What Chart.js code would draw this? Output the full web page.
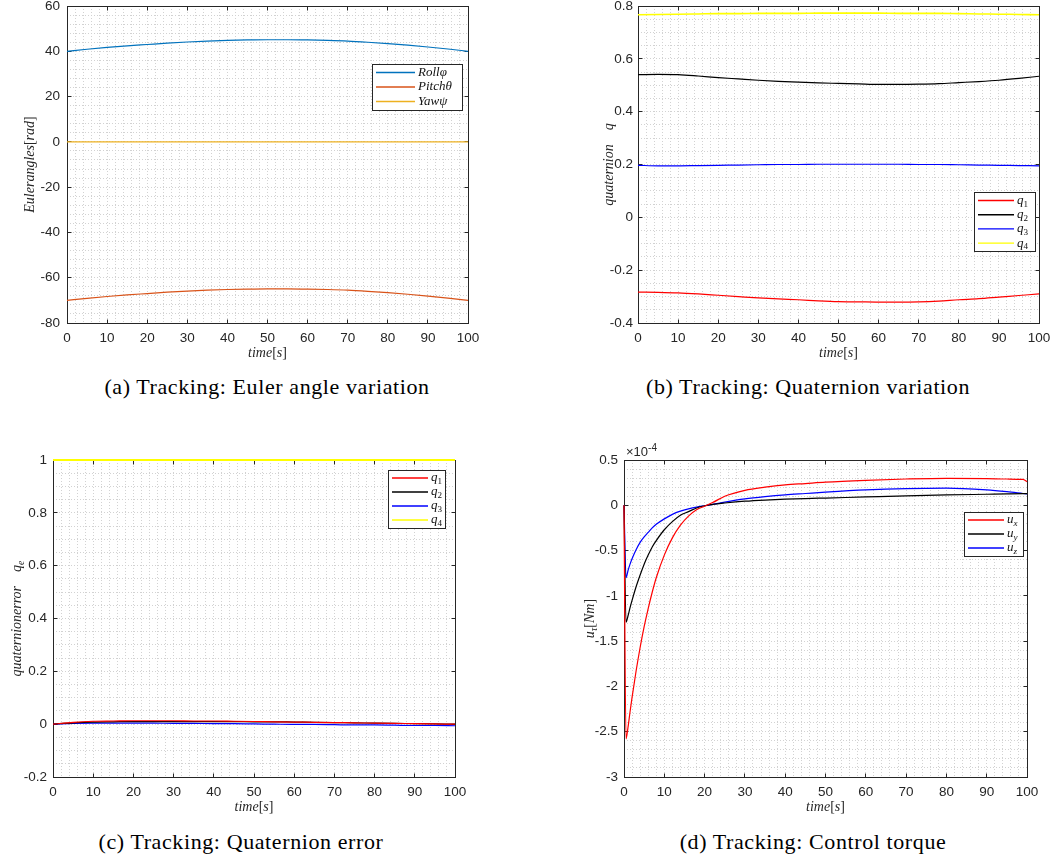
<!DOCTYPE html>
<html><head><meta charset="utf-8">
<script src="https://cdn.jsdelivr.net/npm/chart.js@4.4.1/dist/chart.umd.min.js"></script>
<style>
body{margin:0;background:#fff;width:1051px;height:858px;position:relative;overflow:hidden}
canvas{position:absolute}
.cap{position:absolute;font-family:"Liberation Serif",serif;font-size:22px;letter-spacing:0.6px;color:#000;white-space:nowrap;transform:translate(-50%,-50%)}
</style></head><body>
<canvas id="ca" width="540" height="372" style="left:0px;top:0px"></canvas>
<canvas id="cb" width="491" height="372" style="left:560px;top:0px"></canvas>
<canvas id="cc" width="540" height="390" style="left:0px;top:430px"></canvas>
<canvas id="cd" width="491" height="390" style="left:560px;top:430px"></canvas>
<div class="cap" style="left:267px;top:387px">(a) Tracking: Euler angle variation</div>
<div class="cap" style="left:808px;top:387px">(b) Tracking: Quaternion variation</div>
<div class="cap" style="left:241px;top:842px">(c) Tracking: Quaternion error</div>
<div class="cap" style="left:813px;top:842px">(d) Tracking: Control torque</div>
<script>
// ---------- data ----------
const timeABC = [0,5,10,15,20,25,30,35,40,45,50,55,60,65,70,75,80,85,90,95,100];
// (a) Euler angles
const rollPhi    = [40.0,40.9,41.7,42.4,43.0,43.6,44.1,44.5,44.8,45.0,45.1,45.1,45.0,44.8,44.5,44.0,43.4,42.7,41.9,41.0,40.0];
const pitchTheta = [-70.0,-69.1,-68.3,-67.6,-67.0,-66.4,-65.9,-65.5,-65.2,-65.0,-64.9,-64.9,-65.0,-65.2,-65.5,-66.0,-66.6,-67.3,-68.1,-69.0,-70.0];
const yawPsi     = [0,0,0,0,0,0,0,0,0,0,0,0,0,0,0,0,0,0,0,0,0];
// (b) quaternion variation
const q1Var = [-0.283,-0.284,-0.286,-0.290,-0.295,-0.300,-0.305,-0.309,-0.312,-0.316,-0.319,-0.320,-0.321,-0.321,-0.320,-0.317,-0.312,-0.308,-0.302,-0.296,-0.290];
const q2Var = [0.540,0.541,0.540,0.535,0.529,0.524,0.519,0.515,0.512,0.509,0.507,0.505,0.503,0.503,0.504,0.506,0.510,0.514,0.519,0.526,0.534];
const q3Var = [0.197,0.195,0.195,0.196,0.197,0.198,0.199,0.200,0.200,0.201,0.201,0.201,0.201,0.201,0.200,0.200,0.199,0.198,0.197,0.196,0.195];
const q4Var = [0.767,0.768,0.769,0.770,0.771,0.771,0.772,0.772,0.772,0.773,0.773,0.773,0.773,0.772,0.772,0.772,0.771,0.770,0.769,0.768,0.767];
// (c) quaternion error
const q1Err = [0,0.007,0.011,0.012,0.013,0.013,0.013,0.012,0.012,0.011,0.010,0.009,0.008,0.007,0.006,0.005,0.004,0.003,0.002,0.001,0.000];
const q2Err = [0,0.005,0.008,0.009,0.010,0.010,0.010,0.010,0.010,0.010,0.009,0.009,0.008,0.007,0.006,0.005,0.004,0.003,0.002,0.001,0.000];
const q3Err = [0,0.003,0.004,0.004,0.004,0.004,0.003,0.003,0.002,0.002,0.001,0.000,-0.001,-0.001,-0.002,-0.003,-0.003,-0.004,-0.005,-0.005,-0.006];
const q4Err = [1,1,1,1,1,1,1,1,1,1,1,1,1,1,1,1,1,1,1,1,1];
// (d) control torque (x 1e-4 Nm)
const timeD = [0,0.5,1,1.5,2,3,4,5,6,7,8,10,12,14,16,18,20,22,25,30,35,40,45,50,60,70,80,90,95,99,100];
const uX = [0,-2.58,-2.45,-2.28,-2.12,-1.83,-1.57,-1.34,-1.14,-0.96,-0.80,-0.55,-0.36,-0.22,-0.12,-0.05,-0.01,0.03,0.10,0.165,0.20,0.225,0.24,0.255,0.275,0.29,0.298,0.295,0.29,0.285,0.26];
const uY = [0,-1.29,-1.22,-1.13,-1.05,-0.90,-0.77,-0.65,-0.55,-0.46,-0.39,-0.27,-0.18,-0.11,-0.07,-0.03,-0.005,0.01,0.025,0.045,0.058,0.067,0.074,0.08,0.092,0.104,0.114,0.122,0.126,0.128,0.128];
const uZ = [0,-0.80,-0.72,-0.65,-0.59,-0.49,-0.41,-0.35,-0.30,-0.25,-0.21,-0.15,-0.10,-0.065,-0.04,-0.02,-0.005,0.01,0.035,0.07,0.095,0.115,0.13,0.145,0.17,0.185,0.19,0.17,0.15,0.13,0.125];
// tick definitions
const xMajorStep = 10, xMinorStep = 2;
const yMajorA = 20, yMinorA = 4;
const yMajorB = 0.2, yMinorB = 0.05;
const yMajorC = 0.2, yMinorC = 0.05;
const yMajorD = 0.5, yMinorD = 0.1;
// texts
const xTitle = [{t:'time'},{t:'[',r:1},{t:'s'},{t:']',r:1}];
const yTitleA = [{t:'Eulerangles'},{t:'[',r:1},{t:'rad'},{t:']',r:1}];
const yTitleB = [{t:'quaternion'},{gap:14},{t:'q'}];
const yTitleC = [{t:'quaternionerror'},{gap:14},{t:'q'},{sub:'e'}];
const yTitleD = [{t:'u'},{sub:'τ'},{t:'[',r:1},{t:'Nm'},{t:']',r:1}];
const legendA = [[{t:'Roll'},{t:'φ'}],[{t:'Pitch'},{t:'θ'}],[{t:'Yaw'},{t:'ψ'}]];
const legendQ = [[{t:'q'},{sub:'1',r:1}],[{t:'q'},{sub:'2',r:1}],[{t:'q'},{sub:'3',r:1}],[{t:'q'},{sub:'4',r:1}]];
const legendU = [[{t:'u'},{sub:'x'}],[{t:'u'},{sub:'y'}],[{t:'u'},{sub:'z'}]];

// ---------- helpers ----------
const AX = '#262626';
const SERIF = '"Liberation Serif", serif';
const SANS = '"Liberation Sans", Arial, sans-serif';
const TICK_SIZE = 13.5;
const isMajor = (v, s) => Math.abs(v / s - Math.round(v / s)) < 1e-6;
const fmt = v => String(parseFloat(v.toFixed(3)));
function alignPx(p){ return Math.round(p - 0.5) + 0.5; }

function richWidth(ctx, pieces, size){
  let w = 0;
  for (const p of pieces){
    if (p.gap){ w += p.gap; continue; }
    const small = p.sub || p.sup;
    ctx.font = (p.r ? 'normal ' : 'italic ') + (small ? size*0.7 : size) + 'px ' + SERIF;
    w += ctx.measureText(p.t || p.sub || p.sup).width;
  }
  return w;
}
function drawRich(ctx, pieces, x, y, size, center){
  const w = richWidth(ctx, pieces, size);
  let cx = center ? x - w/2 : x;
  ctx.textBaseline = 'middle'; ctx.textAlign = 'left';
  for (const p of pieces){
    if (p.gap){ cx += p.gap; continue; }
    const small = p.sub || p.sup;
    const txt = p.t || p.sub || p.sup;
    ctx.font = (p.r ? 'normal ' : 'italic ') + (small ? size*0.7 : size) + 'px ' + SERIF;
    const dy = p.sub ? size*0.3 : (p.sup ? -size*0.35 : 0);
    ctx.fillText(txt, cx, y + dy);
    cx += ctx.measureText(txt).width;
  }
}

const decor = {
  id: 'decor',
  beforeDatasetsDraw(chart, args, o){
    const {ctx, chartArea: a, scales: {x, y}} = chart;
    ctx.save();
    const L = alignPx(a.left), R = alignPx(a.right), T = alignPx(a.top), B = alignPx(a.bottom);
    ctx.strokeStyle = AX; ctx.lineWidth = 1;
    ctx.beginPath();
    for (const t of x.ticks){
      if (!isMajor(t.value, o.xMajor)) continue;
      const px = alignPx(x.getPixelForValue(t.value));
      ctx.moveTo(px, B); ctx.lineTo(px, B - 4);
      ctx.moveTo(px, T); ctx.lineTo(px, T + 4);
    }
    for (const t of y.ticks){
      if (!isMajor(t.value, o.yMajor)) continue;
      const py = alignPx(y.getPixelForValue(t.value));
      ctx.moveTo(L, py); ctx.lineTo(L + 4, py);
      ctx.moveTo(R, py); ctx.lineTo(R - 4, py);
    }
    ctx.stroke();
    ctx.strokeRect(L, T, R - L, B - T);
    ctx.restore();
  },
  afterDraw(chart, args, o){
    const {ctx, chartArea: a} = chart;
    ctx.save();
    ctx.fillStyle = AX;
    drawRich(ctx, xTitle, (a.left + a.right)/2, a.bottom + 30, 14, true);
    ctx.save();
    ctx.translate(a.left - o.yTitleOff, (a.top + a.bottom)/2);
    ctx.rotate(-Math.PI/2);
    drawRich(ctx, o.yTitle, 0, 0, 14, true);
    ctx.restore();
    if (o.exponent){
      ctx.font = '13px ' + SANS; ctx.textBaseline = 'alphabetic'; ctx.textAlign = 'left';
      const ex = a.left + 2, ey = a.top - 4;
      ctx.fillText('×10', ex, ey);
      const w = ctx.measureText('×10').width;
      ctx.font = '10px ' + SANS;
      ctx.fillText(o.exponent, ex + w, ey - 5);
    }
    const lg = o.legend;
    ctx.fillStyle = '#fff';
    ctx.fillRect(lg.x, lg.y, lg.w, lg.h);
    ctx.strokeStyle = '#262626'; ctx.lineWidth = 1;
    ctx.strokeRect(alignPx(lg.x), alignPx(lg.y), Math.round(lg.w), Math.round(lg.h));
    chart.data.datasets.forEach((ds, i) => {
      const yy = lg.y + lg.first + i * lg.row;
      ctx.strokeStyle = ds.borderColor; ctx.lineWidth = 1.4;
      ctx.beginPath(); ctx.moveTo(lg.x + 4, yy); ctx.lineTo(lg.x + 4 + lg.line, yy); ctx.stroke();
      ctx.fillStyle = '#111';
      drawRich(ctx, lg.labels[i], lg.x + 7 + lg.line, yy, 13, false);
    });
    ctx.restore();
  }
};

function makePanel(id, conf){
  const cv = document.getElementById(id);
  const W = cv.width, H = cv.height;
  const L = parseFloat(cv.style.left), T = parseFloat(cv.style.top);
  const A = conf.area;
  const gridColor = '#d2d2d2';
  new Chart(cv, {
    type: 'line',
    data: {
      datasets: conf.series.map(s => ({
        label: s.label,
        data: s.t.map((t, i) => ({x: t, y: s.v[i]})),
        borderColor: s.color, borderWidth: s.w || 1.2, pointRadius: 0, fill: false,
        cubicInterpolationMode: 'monotone', clip: false
      }))
    },
    options: {
      responsive: false, animation: false, devicePixelRatio: 1,
      layout: {padding: {left: 0, top: A.top - T, right: L + W - A.right, bottom: 0}},
      plugins: {
        legend: {display: false}, tooltip: {enabled: false},
        decor: {xMajor: xMajorStep, yMajor: conf.yMajor, yTitle: conf.yTitle, yTitleOff: conf.yTitleOff,
                legend: conf.legend, exponent: conf.exponent}
      },
      scales: {
        x: {
          type: 'linear', min: 0, max: 100,
          afterFit: s => { s.height = T + H - A.bottom; s.paddingLeft = 0; s.paddingRight = 0; },
          ticks: {stepSize: xMinorStep, autoSkip: false, maxRotation: 0, padding: 7, color: AX,
                  font: {family: SANS, size: TICK_SIZE},
                  callback: v => isMajor(v, xMajorStep) ? fmt(v) : ''},
          grid: {drawTicks: false, color: gridColor, lineWidth: 1},
          border: {display: false, dash: [1, 2]}
        },
        y: {
          type: 'linear', min: conf.yMin, max: conf.yMax,
          afterFit: s => { s.width = A.left - L; s.paddingTop = 0; s.paddingBottom = 0; },
          ticks: {stepSize: conf.yMinor, autoSkip: false, padding: conf.yPad || 6, color: AX,
                  font: {family: SANS, size: TICK_SIZE},
                  callback: v => isMajor(v, conf.yMajor) ? fmt(v) : ''},
          grid: {drawTicks: false, color: gridColor, lineWidth: 1},
          border: {display: false, dash: [1, 2]}
        }
      }
    },
    plugins: [decor]
  });
}

function lgBox(canvasL, canvasT, x1, y1, x2, y2, first, row, line, labels){
  return {x: x1 - canvasL, y: y1 - canvasT, w: x2 - x1, h: y2 - y1, first, row, line, labels};
}

makePanel('ca', {
  area: {left: 67, top: 6, right: 468, bottom: 323},
  yMin: -80, yMax: 60, yMajor: yMajorA, yMinor: yMinorA, yTitle: yTitleA, yTitleOff: 37, yPad: 7,
  series: [
    {label: 'Roll', t: timeABC, v: rollPhi, color: '#0072BD'},
    {label: 'Pitch', t: timeABC, v: pitchTheta, color: '#D95319'},
    {label: 'Yaw', t: timeABC, v: yawPsi, color: '#EDB120'}
  ],
  legend: lgBox(0, 0, 372, 64, 462, 110, 8.5, 14.5, 39, legendA)
});
makePanel('cb', {
  area: {left: 638, top: 6, right: 1039, bottom: 323},
  yMin: -0.4, yMax: 0.8, yMajor: yMajorB, yMinor: yMinorB, yTitle: yTitleB, yTitleOff: 29, yPad: 5,
  series: [
    {label: 'q1', t: timeABC, v: q1Var, color: '#FF0000'},
    {label: 'q2', t: timeABC, v: q2Var, color: '#000000'},
    {label: 'q3', t: timeABC, v: q3Var, color: '#0000FF'},
    {label: 'q4', t: timeABC, v: q4Var, color: '#FFFF00', w: 1.6}
  ],
  legend: lgBox(560, 0, 974, 192, 1035, 251, 8.5, 14.2, 36, legendQ)
});
makePanel('cc', {
  area: {left: 53, top: 460, right: 455, bottom: 777},
  yMin: -0.2, yMax: 1, yMajor: yMajorC, yMinor: yMinorC, yTitle: yTitleC, yTitleOff: 36, yPad: 6,
  series: [
    {label: 'q1', t: timeABC, v: q1Err, color: '#FF0000'},
    {label: 'q2', t: timeABC, v: q2Err, color: '#000000'},
    {label: 'q3', t: timeABC, v: q3Err, color: '#0000FF'},
    {label: 'q4', t: timeABC, v: q4Err, color: '#FFFF00', w: 2}
  ],
  legend: lgBox(0, 430, 388, 470, 445, 528, 8, 14, 36, legendQ)
});
makePanel('cd', {
  area: {left: 624, top: 460, right: 1027, bottom: 777},
  yMin: -3, yMax: 0.5, yMajor: yMajorD, yMinor: yMinorD, yTitle: yTitleD, yTitleOff: 34, yPad: 6,
  series: [
    {label: 'ux', t: timeD, v: uX, color: '#FF0000'},
    {label: 'uy', t: timeD, v: uY, color: '#000000'},
    {label: 'uz', t: timeD, v: uZ, color: '#0000FF'}
  ],
  legend: lgBox(560, 430, 964, 512, 1023, 556, 8, 14, 36, legendU),
  exponent: '-4'
});
</script>
</body></html>
